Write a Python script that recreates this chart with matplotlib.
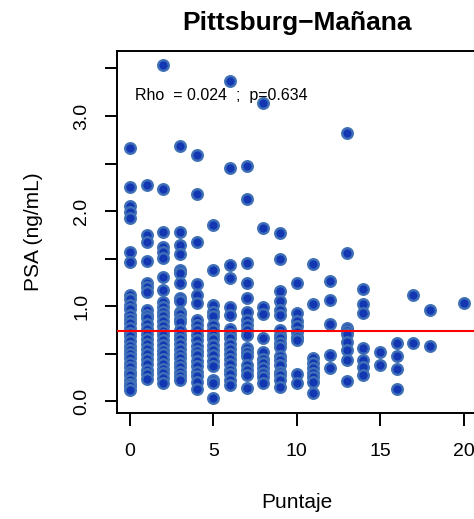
import matplotlib
matplotlib.use('Agg')
import matplotlib.pyplot as plt

# PSA values (ng/mL) grouped by score
psa_by_score = {
    0: [2.66, 2.25, 2.05, 1.99, 1.93, 1.57, 1.46, 1.12, 1.07, 1.01, 0.97, 0.91, 0.86, 0.82,
        0.77, 0.72, 0.68, 0.63, 0.58, 0.54, 0.49, 0.45, 0.40, 0.36, 0.31, 0.27, 0.22, 0.18,
        0.16, 0.12],
    1: [2.27, 1.75, 1.67, 1.47, 1.24, 1.20, 1.15, 0.96, 0.91, 0.87, 0.81, 0.76, 0.71, 0.65,
        0.60, 0.55, 0.49, 0.44, 0.39, 0.33, 0.28, 0.23],
    2: [3.54, 2.23, 1.78, 1.62, 1.57, 1.51, 1.31, 1.17, 1.04, 0.99, 0.94, 0.89, 0.84, 0.79,
        0.74, 0.69, 0.64, 0.59, 0.54, 0.49, 0.44, 0.39, 0.34, 0.29, 0.24, 0.19],
    3: [2.68, 1.78, 1.64, 1.55, 1.38, 1.35, 1.24, 1.08, 1.05, 0.94, 0.92, 0.86, 0.83, 0.75,
        0.70, 0.65, 0.60, 0.55, 0.50, 0.45, 0.40, 0.36, 0.31, 0.26, 0.22],
    4: [2.59, 2.18, 1.67, 1.23, 1.12, 1.03, 0.85, 0.80, 0.75, 0.69, 0.64, 0.58, 0.53, 0.48,
        0.42, 0.37, 0.31, 0.26, 0.20, 0.13],
    5: [1.85, 1.38, 1.01, 0.94, 0.89, 0.80, 0.75, 0.70, 0.65, 0.59, 0.54, 0.48, 0.42, 0.37,
        0.22, 0.19, 0.03],
    6: [3.37, 2.45, 1.43, 1.29, 0.99, 0.91, 0.76, 0.71, 0.66, 0.60, 0.55, 0.49, 0.44, 0.39,
        0.33, 0.28, 0.22, 0.17],
    7: [2.47, 2.13, 1.45, 1.24, 1.08, 0.94, 0.85, 0.80, 0.75, 0.70, 0.56, 0.52, 0.47, 0.38,
        0.33, 0.27, 0.14],
    8: [3.14, 1.82, 0.99, 0.92, 0.66, 0.52, 0.44, 0.40, 0.35, 0.30, 0.25, 0.19],
    9: [1.77, 1.50, 1.16, 1.05, 0.96, 0.91, 0.75, 0.70, 0.66, 0.61, 0.57, 0.47, 0.43, 0.38,
        0.31, 0.27, 0.22, 0.15],
    10: [1.24, 0.93, 0.84, 0.79, 0.73, 0.67, 0.64, 0.28, 0.19],
    11: [1.44, 1.02, 0.45, 0.40, 0.35, 0.30, 0.25, 0.20, 0.08],
    12: [1.26, 1.06, 0.81, 0.48, 0.35],
    13: [2.82, 1.56, 0.77, 0.74, 0.71, 0.62, 0.54, 0.43, 0.21],
    14: [1.18, 1.02, 0.93, 0.56, 0.43, 0.36, 0.27],
    15: [0.52, 0.38],
    16: [0.61, 0.47, 0.34, 0.13],
    17: [1.12, 0.61],
    18: [0.96, 0.58],
    20: [1.03],
}
psa_ref = 0.74
rho = 0.024
p_value = 0.634

x_ticks = [0, 5, 10, 15, 20]
y_ticks = [0, 0.5, 1.0, 1.5, 2.0, 2.5, 3.0, 3.5]
y_ticklabels = ['0.0', '', '1.0', '', '2.0', '', '3.0', '']

plt.rcParams['font.family'] = ['Liberation Sans', 'DejaVu Sans']


def main():
    xs = []
    ys = []
    for score, vals in psa_by_score.items():
        for v in vals:
            xs.append(score)
            ys.append(v)

    fig = plt.figure(figsize=(4.74, 5.19), dpi=100)
    ax = fig.add_axes([0.246, 0.2052, 0.760, 0.6965])

    ax.scatter(xs, ys, s=58, facecolor='#1336b3', edgecolor='#3f70b6',
               linewidths=1.7, zorder=2)
    ax.axhline(psa_ref, color='#ff0000', lw=1.5, zorder=3)

    ax.text(0.3, 3.22, 'Rho  = %.3f  ;  p=%.3f' % (rho, p_value),
            fontsize=11.5, ha='left', va='center')

    ax.set_xlim(-0.8, 20.8)
    ax.set_ylim(-0.121, 3.684)
    ax.set_xticks(x_ticks)
    ax.set_yticks(y_ticks)
    ax.set_yticklabels(y_ticklabels, rotation=90, va='center')
    ax.tick_params(axis='both', length=9, width=1.4, labelsize=14)
    ax.tick_params(axis='x', pad=13)
    ax.tick_params(axis='y', pad=10)
    for sp in ax.spines.values():
        sp.set_linewidth(1.4)

    ax.set_xlabel('Puntaje', fontsize=15, labelpad=24)
    ax.set_ylabel('PSA (ng/mL)', fontsize=15, labelpad=22)
    ax.set_title('Pittsburg\u2212Mañana', fontsize=19, fontweight='bold', pad=15)

    fig.savefig('out.png', dpi=100)


if __name__ == '__main__':
    main()
